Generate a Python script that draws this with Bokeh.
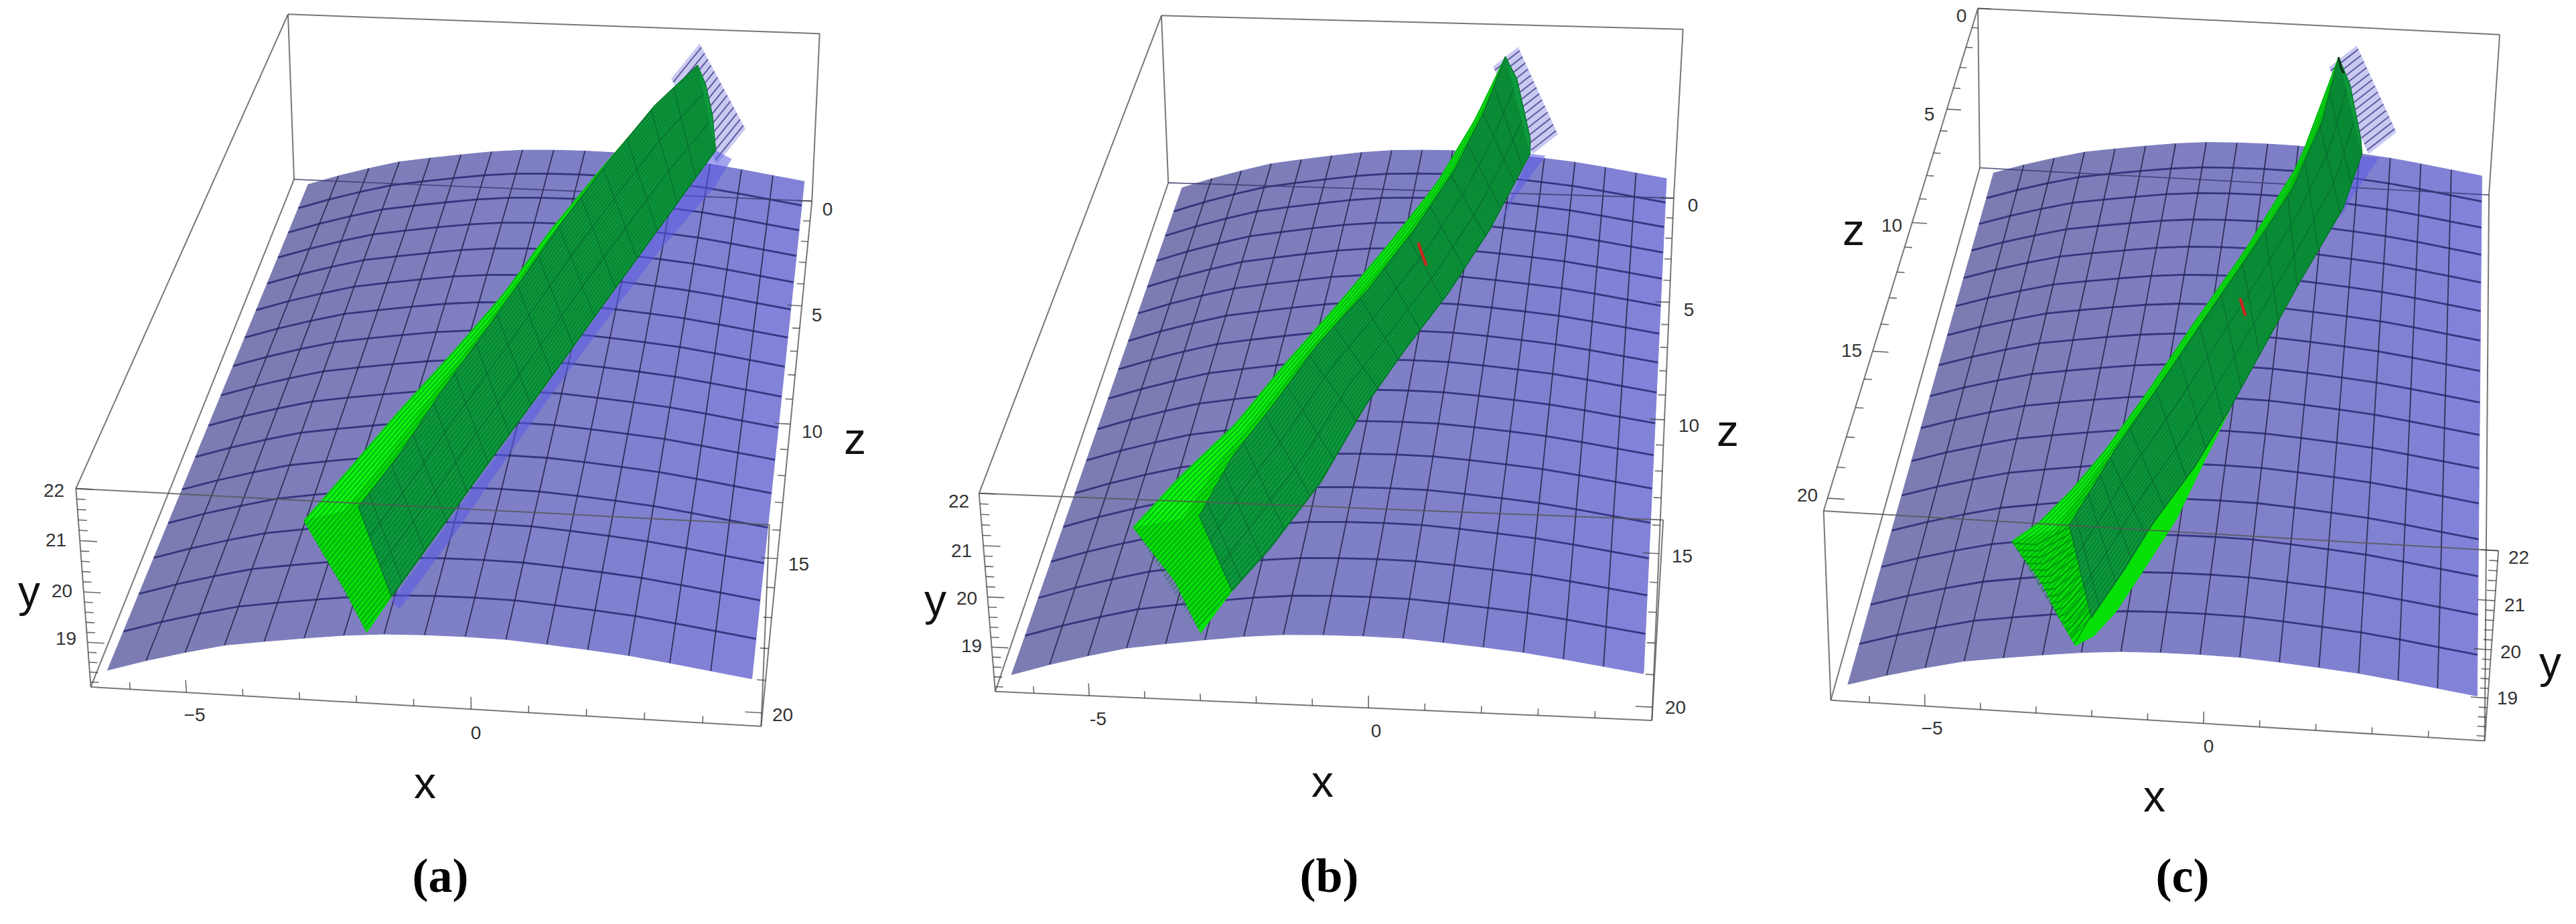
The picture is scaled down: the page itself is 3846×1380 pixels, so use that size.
import numpy as np
from bokeh.plotting import figure
from bokeh.embed import file_html
from bokeh.resources import INLINE
from bokeh.core.properties import value

# ---- surface (x, height y) and its z stations
surface_x = [-6.38,-5.68,-4.98,-4.28,-3.58,-2.88,-2.19,-1.49,-0.79,-0.09,0.61,1.31,2.01,2.71,3.41,4.11,4.81]
surface_y = [18.46,18.70,18.91,19.10,19.22,19.33,19.43,19.50,19.53,19.54,19.53,19.48,19.42,19.35,19.25,19.14,19.03]
surface_z = [0,1.275,2.55,3.825,5.1,6.375,7.65,8.925,10.2,11.475,12.75,14.025,15.3,16.575,17.85,19.125,20.4]
surface_drop = [0.47,0.44,0.41,0.38,0.35,0.32,0.29,0.26,0.23,0.20,0.17,0.145,0.115,0.085,0.055,0.03,0.0]
box_x = (-6.7, 5.0)
box_y = (18.1, 22.0)
box_z = (0.0, 20.4)
x_ticks = [-6,-5,-4,-3,-2,-1,0,1,2,3,4]
y_ticks = [18.2,18.4,18.6,18.8,19,19.2,19.4,19.6,19.8,20,20.2,20.4,20.6,20.8,21,21.2,21.4,21.6,21.8,22]
z_ticks = list(range(0,21))

# ---- box corners seen in each panel: back (z=0) then front (z=max); left-bottom, left-top, right-bottom, right-top
a_corners = [(447,275),(437,29),(1220,308),(1231,58),(143,1033),(121,738),(1143,1093),(1157,790)]
b_corners = [(1752,279),(1741,32),(2504,304),(2523,51),(1494,1041),(1469,744),(2476,1084),(2488,783)]
c_corners = [(2964,258),(2960,20),(3723,299),(3740,59),(2740,1053),(2731,771),(3718,1114),(3737,830)]

# ---- green sheet edges, front to tip
a_left  = [(461,785),(531,705),(604,620),(682,535),(760,445),(830,350),(900,265),(975,178),(1049,105)]
a_inner = [(543,765),(608,680),(668,590),(730,505),(790,420),(850,335),(915,250),(985,165),(1049,105)]
a_right = [(592,899),(658,808),(718,725),(780,640),(842,555),(903,470),(965,385),(1023,305),(1076,232)]
a_tip   = [(1071,179),(1061,134)]
a_front = [(555,952),(522,888)]
b_left  = [(1699,795),(1768,720),(1852,640),(1922,555),(2006,460),(2082,370),(2153,280),(2210,185),(2255,92)]
b_inner = [(1798,778),(1847,690),(1910,610),(1975,522),(2050,440),(2120,350),(2180,260),(2225,170),(2255,92)]
b_right = [(1847,890),(1905,825),(1980,727),(2045,615),(2105,530),(2170,445),(2232,350),(2272,275),(2292,237)]
b_tip   = [(2292,214),(2272,125)]
b_front = [(1800,953),(1762,876)]
c_left  = [(3011,816),(3052,787),(3101,738),(3150,680),(3216,589),(3282,491),(3360,380),(3440,250),(3499,93)]
c_inner = [(3097,792),(3135,730),(3165,680),(3241,570),(3302,480),(3364,390),(3430,290),(3475,188),(3499,93)]
c_right = [(3130,930),(3178,860),(3220,792),(3284,705),(3335,621),(3388,525),(3443,425),(3506,318),(3534,237)]
c_tip   = [(3532,214),(3516,134)]
c_front = [(3106,972),(3080,927),(3057,880)]
c_outer = [(3134,957),(3167,921),(3208,859),(3257,783),(3298,698),(3347,598)]

# ---- pale hatched sheet (top, right, bottom corners) and the blue band next to the green
a_sheet = [(1052,73),(1120,200),(1078,252)]
b_sheet = [(2274,78),(2333,208),(2296,237)]
c_sheet = [(3526,76),(3585,205),(3544,237)]
a_band = [(592,905),(604,917),(690,800),(765,690),(830,598),(905,496),(990,384),(1075,286),(1100,245),(1076,232)]
b_band = [(2292,237),(2315,240),(2268,304),(2245,345)]
c_band = [(3534,241),(3560,243),(3520,300),(3500,335)]

# ---- the small red mark in (b) and (c)
b_red = [(2125,370),(2131,388),(2137,404)]
c_red = [(3352,453),(3356,466),(3360,479)]
c_black = [(3499,93),(3503,110),(3507,117)]

# ---- texts
a_y_lab = [(88,740,"22"),(91,814,"21"),(100,890,"20"),(106,961,"19")]
a_z_lab = [(1243,320,"0"),(1227,478,"5"),(1220,652,"10"),(1200,850,"15"),(1176,1075,"20")]
a_x_lab = [(298,1075,"\u22125"),(718,1102,"0")]
a_names = [(51,890,"y"),(1284,662,"z"),(642,1176,"x")]
b_y_lab = [(1439,756,"22"),(1443,830,"21"),(1451,901,"20"),(1458,972,"19")]
b_z_lab = [(2535,314,"0"),(2529,470,"5"),(2529,643,"10"),(2519,838,"15"),(2509,1064,"20")]
b_x_lab = [(1647,1081,"-5"),(2062,1099,"0")]
b_names = [(1404,903,"y"),(2587,650,"z"),(1982,1174,"x")]
c_y_lab = [(3768,840,"22"),(3762,911,"21"),(3756,981,"20"),(3751,1050,"19")]
c_z_lab = [(2936,31,"0"),(2888,178,"5"),(2832,344,"10"),(2772,531,"15"),(2706,747,"20")]
c_x_lab = [(2892,1095,"\u22125"),(3305,1122,"0")]
c_names = [(3815,996,"y"),(2775,350,"z"),(3224,1196,"x")]
captions = [(665,1315,"(a)"),(1992,1315,"(b)"),(3266,1315,"(c)")]


def fit_camera(corners):
    world = [(xx, yy, zz) for zz in box_z for xx in box_x for yy in box_y]
    rows = []
    for (X, Y, Z), (u, v) in zip(world, corners):
        rows.append([X, Y, Z, 1, 0, 0, 0, 0, -u*X, -u*Y, -u*Z, -u])
        rows.append([0, 0, 0, 0, X, Y, Z, 1, -v*X, -v*Y, -v*Z, -v])
    return np.linalg.svd(np.array(rows, float))[2][-1].reshape(3, 4)


def project(cam, X, Y, Z):
    X, Y, Z = np.broadcast_arrays(np.asarray(X, float), np.asarray(Y, float), np.asarray(Z, float))
    w = cam @ np.vstack([X.ravel(), Y.ravel(), Z.ravel(), np.ones(X.size)])
    return (w[0]/w[2]).tolist(), (w[1]/w[2]).tolist()


def arr(points):
    return np.array(points, float)


def along(edge, t):
    idx = np.linspace(0, 1, len(edge))
    return np.column_stack([np.interp(t, idx, edge[:, 0]), np.interp(t, idx, edge[:, 1])])


p = figure(width=3830, height=1364, x_range=(8, 3838), y_range=(1372, 8),
           output_backend="svg", toolbar_location=None, min_border=0)
p.axis.visible = False
p.grid.visible = False
p.outline_line_color = None
p.background_fill_color = "white"

SX, SY, SZ, SD = np.array(surface_x), np.array(surface_y), np.array(surface_z), np.array(surface_drop)


def draw_panel(corners, left, inner, right, tip, front, sheet, band, outer, y_lab, z_lab, x_lab, names, y_side, z_side, curved):
    cam = fit_camera(corners)
    x0, x1 = box_x; y0, y1 = box_y; z0, z1 = box_z

    # surface strips
    xs, ys, cols = [], [], []
    n = len(SX)
    for i in range(n-1):
        ax, ay = project(cam, SX[i], SY[i]-SD, SZ)
        bx, by = project(cam, SX[i+1], SY[i+1]-SD[::-1], SZ[::-1])
        xs.append(ax+bx); ys.append(ay+by)
        f = i/(n-2)
        cols.append("#%02x%02x%02x" % (int(124+6*f), int(124+6*f), int(178+38*f)))
    p.patches(xs, ys, fill_color=cols, line_color=cols, line_width=1)

    # mesh
    mx, my = [], []
    for k in range(1, len(SZ)-1):
        a, b = project(cam, SX, SY-SD[k], SZ[k]); mx.append(a); my.append(b)
    p.multi_line(mx, my, line_color="#2e2e78", line_width=2.8, line_alpha=0.9)
    mx, my = [], []
    for i in range(1, n-1):
        a, b = project(cam, SX[i], SY[i]-SD, SZ); mx.append(a); my.append(b)
    p.multi_line(mx, my, line_color="#28284e", line_width=1.8, line_alpha=0.9)

    # back bottom edge seen through the sheet
    a, b = project(cam, [x0, x1], y0, z0)
    p.line(a, b, line_color="#3a3a70", line_width=1.8, line_alpha=0.8)

    # pale hatched sheet
    T, R, B = [arr(q) for q in sheet]
    L = T + B - R
    p.patch([T[0], R[0], B[0], L[0]], [T[1], R[1], B[1], L[1]], fill_color="#c9c9f2", line_color="#c9c9f2", line_alpha=0.8)
    hx, hy = [], []
    for q in np.linspace(0.04, 0.96, 14):
        s, e = T + q*(R-T), L + q*(B-L)
        hx.append([s[0], e[0]]); hy.append([s[1], e[1]])
    p.multi_line(hx, hy, line_color="#5c5ca0", line_width=2)

    # blue band by the green
    bnd = arr(band)
    p.patch(bnd[:, 0].tolist(), bnd[:, 1].tolist(), fill_color="#5a5ae6", fill_alpha=0.55, line_color=None)

    # green
    le, ie, re, ti, fr = arr(left), arr(inner), arr(right), arr(tip), arr(front)
    out = arr(outer) if outer is not None else None
    lightpts = np.vstack([le, ti[::-1], re[-1:], (re[::-1] if out is None else np.vstack([re[-3:][::-1], out[::-1]])), fr])
    p.patch(lightpts[:, 0].tolist(), lightpts[:, 1].tolist(), fill_color="#06e006", line_color="#06d806", line_width=1)
    # brightest strip next to the left edge
    t = np.linspace(0, 1, 30)
    lp, ip = along(le, t), along(ie, t)
    mid = lp*0.25 + ip*0.75
    pts = np.vstack([lp, mid[::-1]])
    p.patch(pts[:, 0].tolist(), pts[:, 1].tolist(), fill_color="#0cf80c", line_color=None)
    dark = np.vstack([ie, ti[::-1], re[-1:], re[::-1]])
    p.patch(dark[:, 0].tolist(), dark[:, 1].tolist(), fill_color="#0e9a3e", line_color="#0a7a30", line_width=1.5)

    # stripes running the length of the green
    rp = along(re, t)
    L0, R0, B0 = le[0], re[0], fr[0]
    d = (lp[3]-lp[0] + rp[3]-rp[0])/2
    sx, sy = [], []
    for s in np.linspace(0.01, 0.99, 30):
        P0 = L0 + s*(R0-L0)
        start = None
        for A, C in ((L0, B0), (B0, R0)):
            sol = np.linalg.solve(np.column_stack([C-A, d]), P0-A)
            if -0.001 <= sol[0] <= 1.001:
                start = A + sol[0]*(C-A)
        line = s*rp + (1-s)*lp
        if start is not None:
            line = np.vstack([start, line])
        sx.append(line[:, 0].tolist()); sy.append(line[:, 1].tolist())
    p.multi_line(sx, sy, line_color="#006a22", line_width=2.2, line_alpha=0.45)

    if curved:
        cx, cy = [], []
        for q in np.linspace(0.02, 0.98, 16):
            A = L0 + q*(B0-L0)
            I = ie[0] + q*(re[0]-ie[0])
            m = (A+I)/2 + np.array([-8, 14])
            cx.append([A[0], m[0], I[0]]); cy.append([A[1], m[1], I[1]])
        p.multi_line(cx, cy, line_color="#008a10", line_width=2, line_alpha=0.75)

    # net across the dark part (two families making the diamonds)
    nx, ny = [], []
    for q in np.linspace(0.03, 0.93, 15):
        a, b = along(ie, q)[0], along(re, q)[0]
        nx.append([a[0], b[0]]); ny.append([a[1], b[1]])
    for s in (0.33, 0.66):
        line = s*rp + (1-s)*ip
        nx.append(line[:, 0].tolist()); ny.append(line[:, 1].tolist())
    p.multi_line(nx, ny, line_color="#08602f", line_width=1.6, line_alpha=0.55)

    # box
    edges = [((x0,y1,z0),(x1,y1,z0)), ((x0,y0,z0),(x0,y1,z0)), ((x1,y0,z0),(x1,y1,z0)),
             ((x0,y0,z1),(x1,y0,z1)), ((x0,y1,z1),(x1,y1,z1)), ((x0,y0,z1),(x0,y1,z1)), ((x1,y0,z1),(x1,y1,z1)),
             ((x0,y0,z0),(x0,y0,z1)), ((x0,y1,z0),(x0,y1,z1)), ((x1,y0,z0),(x1,y0,z1))]
    ex, ey = [], []
    for A, C in edges:
        a, b = project(cam, [A[0], C[0]], [A[1], C[1]], [A[2], C[2]])
        ex.append(a); ey.append(b)
    p.multi_line(ex, ey, line_color="#555555", line_width=2, line_alpha=0.8)

    # ticks
    tx, ty = [], []
    for v in x_ticks:
        h = 0.25 if v % 5 == 0 else 0.14
        a, b = project(cam, [v, v], [y0, y0+h], z1); tx.append(a); ty.append(b)
    for v in y_ticks:
        h = 0.3 if abs(v-round(v)) < 1e-6 else 0.15
        a, b = project(cam, [y_side, y_side+(h if y_side == x0 else -h)], [v, v], z1); tx.append(a); ty.append(b)
    for v in z_ticks:
        h = 0.3 if v % 5 == 0 else 0.15
        if z_side == x1:
            a, b = project(cam, [x1, x1-h], y0, [v, v])
        else:
            a, b = project(cam, [x0, x0+h], y1, [v, v])
        tx.append(a); ty.append(b)
    p.multi_line(tx, ty, line_color="#444444", line_width=1.6, line_alpha=0.8)

    # numbers
    lab = y_lab + z_lab + x_lab
    p.text([q[0] for q in lab], [q[1] for q in lab], text=[q[2] for q in lab], text_align="center",
           text_baseline="middle", text_font=value("Liberation Sans"), text_font_size=value("28px"), text_color="#333333")
    p.text([q[0] for q in names], [q[1] for q in names], text=[q[2] for q in names], text_align="center",
           text_baseline="middle", text_font=value("Liberation Sans"), text_font_size=value("66px"), text_color="#111111")


draw_panel(a_corners, a_left, a_inner, a_right, a_tip, a_front, a_sheet, a_band, None, a_y_lab, a_z_lab, a_x_lab, a_names, box_x[0], box_x[1], False)
draw_panel(b_corners, b_left, b_inner, b_right, b_tip, b_front, b_sheet, b_band, None, b_y_lab, b_z_lab, b_x_lab, b_names, box_x[0], box_x[1], False)
draw_panel(c_corners, c_left, c_inner, c_right, c_tip, c_front, c_sheet, c_band, c_outer, c_y_lab, c_z_lab, c_x_lab, c_names, box_x[1], box_x[0], True)

for mark in (b_red, c_red):
    p.line([q[0] for q in mark], [q[1] for q in mark], line_color="#c8281e", line_width=4.5)
p.line([q[0] for q in c_black], [q[1] for q in c_black], line_color="#103020", line_width=3)

p.text([q[0] for q in captions], [q[1] for q in captions], text=[q[2] for q in captions], text_align="center",
       text_baseline="middle", text_font=value("Liberation Serif"), text_font_size=value("72px"),
       text_font_style="bold", text_color="#000000")

open("out.html", "w").write(file_html(p, INLINE))
